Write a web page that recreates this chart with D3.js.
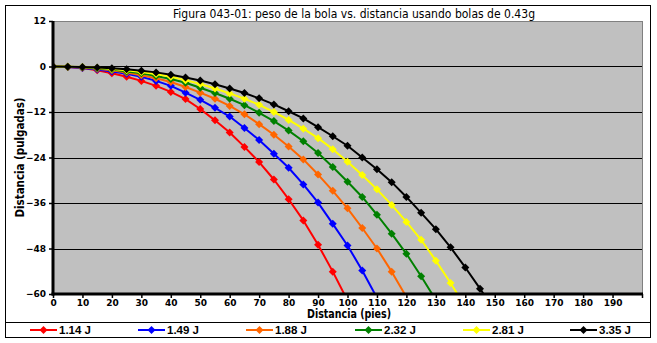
<!DOCTYPE html>
<html>
<head>
<meta charset="utf-8">
<script src="https://cdn.jsdelivr.net/npm/d3@7"></script>
<style>
  html, body { margin: 0; padding: 0; background: #fff; }
  svg { display: block; }
</style>
</head>
<body>
<svg id="chart" width="657" height="343"></svg>
<script>
// Distance (feet) at which each drop value was sampled
const distances = [0,5,10,15,20,25,30,35,40,45,50,55,60,65,70,75,80,85,90,95,100,105,110,115,120,125,130,135,140,145,150];

// Drop (inches) for each muzzle energy
const drop114 = [0,-0.1,-0.4,-1.0,-1.8,-2.7,-3.8,-5.1,-6.7,-8.6,-11.2,-14.2,-17.4,-21.2,-25.2,-29.8,-35.0,-40.6,-47.0,-54.1,-61.7];
const drop149 = [0,-0.1,-0.4,-0.8,-1.3,-1.9,-2.7,-3.8,-5.1,-6.9,-8.8,-10.9,-13.2,-16.2,-19.4,-23.0,-26.7,-31.1,-35.9,-41.5,-47.2,-53.8,-61.0];
const drop188 = [0,-0.05,-0.25,-0.6,-1.0,-1.6,-2.3,-3.1,-4.1,-5.4,-6.9,-8.5,-10.4,-12.6,-15.2,-18.0,-21.1,-24.5,-28.5,-32.8,-37.4,-42.6,-48.0,-54.1,-60.8];
const drop232 = [0,-0.05,-0.2,-0.45,-0.8,-1.3,-1.8,-2.5,-3.3,-4.3,-5.6,-7.0,-8.5,-10.2,-12.2,-14.4,-16.9,-19.7,-22.8,-26.5,-30.4,-34.4,-39.1,-44.1,-49.4,-55.3,-61.6];
const drop281 = [0,-0.05,-0.15,-0.35,-0.65,-1.0,-1.45,-2.0,-2.7,-3.6,-4.6,-5.8,-7.1,-8.5,-10.1,-12.0,-14.1,-16.4,-18.9,-21.8,-25.1,-28.6,-32.4,-36.5,-41.0,-45.7,-51.2,-57.1,-63.4];
const drop335 = [0,-0.05,-0.1,-0.25,-0.45,-0.75,-1.1,-1.55,-2.2,-2.9,-3.7,-4.7,-5.8,-7.0,-8.4,-10.0,-11.8,-13.7,-16.0,-18.4,-20.9,-24.0,-27.1,-30.5,-34.4,-38.6,-42.9,-47.7,-53.0,-58.6,-64.4];

const seriesNames = ["1.14 J","1.49 J","1.88 J","2.32 J","2.81 J","3.35 J"];
const seriesColors = ["#FF0000","#0000FF","#FF6600","#008000","#FFFF00","#000000"];
const seriesDrops = [drop114, drop149, drop188, drop232, drop281, drop335];

const xTicks = [0,10,20,30,40,50,60,70,80,90,100,110,120,130,140,150,160,170,180,190,200];
const xTickLabels = ["0","10","20","30","40","50","60","70","80","90","100","110","120","130","140","150","160","170","180","190",""];
const yTicks = [12,0,-12,-24,-36,-48,-60];

const titleText = "Figura 043-01: peso de la bola vs. distancia usando bolas de 0.43g";
const xTitle = "Distancia (pies)";
const yTitle = "Distancia (pulgadas)";

const svg = d3.select("#chart");
const plot = {left: 53, right: 642, top: 21, bottom: 294};

const x = d3.scaleLinear().domain([0, 200]).range([plot.left, plot.right]);
const y = d3.scaleLinear().domain([-60, 12]).range([plot.bottom, plot.top]);

// Outer frame and legend separator
svg.append("rect").attr("x", 5.5).attr("y", 5.5).attr("width", 645).attr("height", 332)
  .attr("fill", "#fff").attr("stroke", "#000").attr("stroke-width", 1);
svg.append("line").attr("x1", 5.5).attr("x2", 650.5).attr("y1", 322.5).attr("y2", 322.5)
  .attr("stroke", "#000");

// Title
svg.append("text").attr("x", 354).attr("y", 18).attr("text-anchor", "middle")
  .attr("font-family", "'DejaVu Sans Condensed', 'DejaVu Sans', sans-serif").attr("font-size", 12.5)
  .attr("textLength", 362).attr("lengthAdjust", "spacingAndGlyphs")
  .attr("fill", "#000").text(titleText);

// Plot background
svg.append("rect").attr("x", plot.left).attr("y", plot.top + 0.5)
  .attr("width", plot.right - plot.left + 0.5).attr("height", plot.bottom - plot.top)
  .attr("fill", "#C0C0C0").attr("stroke", "#808080").attr("stroke-width", 1);

// Horizontal gridlines
svg.append("g").selectAll("line").data(yTicks.filter(t => t < 12 && t > -60)).join("line")
  .attr("x1", plot.left).attr("x2", plot.right)
  .attr("y1", d => Math.round(y(d)) + 0.5).attr("y2", d => Math.round(y(d)) + 0.5)
  .attr("stroke", "#000").attr("stroke-width", 1);

// Series lines and markers, clipped to the plot area
svg.append("defs").append("clipPath").attr("id", "plotClip")
  .append("rect").attr("x", plot.left).attr("y", plot.top)
  .attr("width", plot.right - plot.left).attr("height", plot.bottom - plot.top);

const line = d3.line().x(d => x(d[0])).y(d => y(d[1]));
const diamond = d3.symbol().type(d3.symbolSquare).size(32);

const gSeries = svg.append("g").attr("clip-path", "url(#plotClip)");
seriesDrops.forEach((drops, i) => {
  const pts = drops.map((v, k) => [distances[k], v]);
  gSeries.append("path").datum(pts).attr("d", line)
    .attr("fill", "none").attr("stroke", seriesColors[i]).attr("stroke-width", 2)
    .attr("stroke-linejoin", "round");
  gSeries.append("g").selectAll("path").data(pts).join("path")
    .attr("d", diamond)
    .attr("transform", d => `translate(${x(d[0])},${y(d[1])}) rotate(45)`)
    .attr("fill", seriesColors[i]).attr("stroke", "none");
});

// Axes
const tickFont = "'DejaVu Sans', sans-serif";
const yAxis = d3.axisLeft(y).tickValues(yTicks).tickSize(4).tickPadding(3).tickFormat(d3.format("d"));
const gy = svg.append("g").attr("transform", `translate(${plot.left},0)`).call(yAxis);
gy.select(".domain").remove();
gy.selectAll(".tick line").attr("stroke", "#000").attr("stroke-width", 1.5);
gy.selectAll(".tick text").attr("font-family", tickFont).attr("font-size", 9)
  .attr("font-weight", "bold").attr("fill", "#000");

const xAxis = d3.axisBottom(x).tickValues(xTicks).tickSize(4).tickPadding(2)
  .tickFormat((d, i) => xTickLabels[i]);
const gx = svg.append("g").attr("transform", `translate(0,${plot.bottom})`).call(xAxis);
gx.select(".domain").remove();
gx.selectAll(".tick line").attr("stroke", "#000").attr("stroke-width", 1.5);
gx.selectAll(".tick text").attr("font-family", tickFont).attr("font-size", 9)
  .attr("font-weight", "bold").attr("fill", "#000");

// Thick axis lines
svg.append("line").attr("x1", plot.left).attr("x2", plot.left)
  .attr("y1", plot.top).attr("y2", plot.bottom + 1.5)
  .attr("stroke", "#000").attr("stroke-width", 3);
svg.append("line").attr("x1", plot.left - 1.5).attr("x2", plot.right + 1)
  .attr("y1", plot.bottom).attr("y2", plot.bottom)
  .attr("stroke", "#000").attr("stroke-width", 3);

// Axis titles
svg.append("text").attr("x", 349).attr("y", 318).attr("text-anchor", "middle")
  .attr("font-family", "'DejaVu Sans Condensed', 'DejaVu Sans', sans-serif").attr("font-size", 12)
  .attr("font-weight", "bold").attr("textLength", 84).attr("lengthAdjust", "spacingAndGlyphs")
  .attr("fill", "#000").text(xTitle);
svg.append("text").attr("transform", `translate(24,${(plot.top + plot.bottom) / 2}) rotate(-90)`)
  .attr("text-anchor", "middle")
  .attr("font-family", "'DejaVu Sans Condensed', 'DejaVu Sans', sans-serif").attr("font-size", 12)
  .attr("font-weight", "bold").attr("textLength", 120).attr("lengthAdjust", "spacingAndGlyphs")
  .attr("fill", "#000").text(yTitle);

// Legend
const legendX = [30, 138, 246, 355, 463, 570];
const legendY = 330;
const gl = svg.append("g");
seriesNames.forEach((name, i) => {
  const lx = legendX[i];
  gl.append("line").attr("x1", lx).attr("x2", lx + 27).attr("y1", legendY).attr("y2", legendY)
    .attr("stroke", seriesColors[i]).attr("stroke-width", 2);
  gl.append("path").attr("d", diamond)
    .attr("transform", `translate(${lx + 13.5},${legendY}) rotate(45)`)
    .attr("fill", seriesColors[i]);
  gl.append("text").attr("x", lx + 29).attr("y", legendY + 4)
    .attr("font-family", "'Liberation Sans', Arial, sans-serif").attr("font-size", 11.5)
    .attr("font-weight", "bold").attr("fill", "#000").text(name);
});
</script>
</body>
</html>
